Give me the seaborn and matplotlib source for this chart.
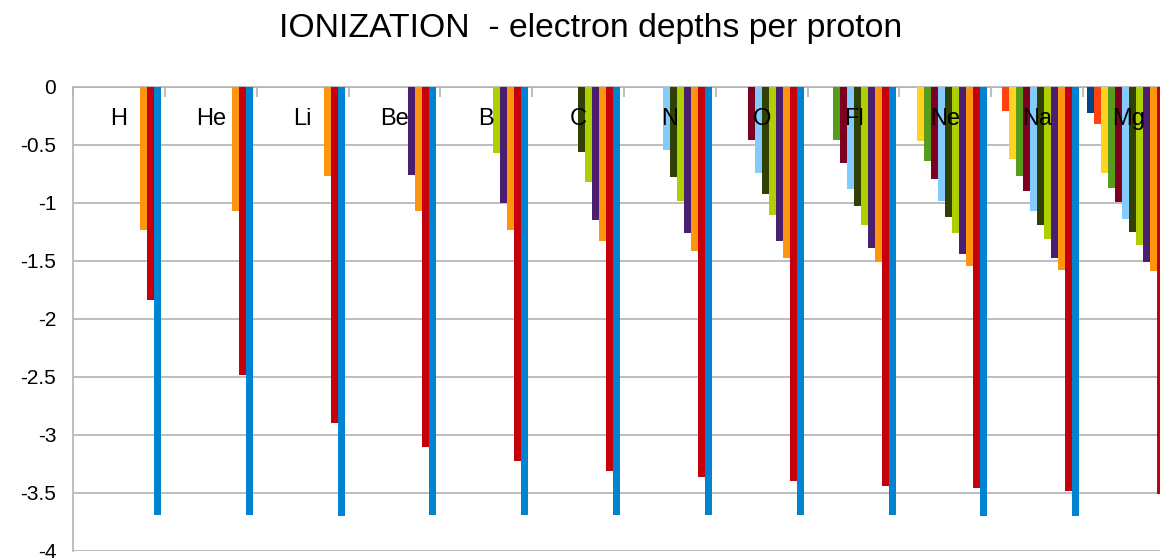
import numpy as np
import pandas as pd
import seaborn as sns
from matplotlib import pyplot as plt
from matplotlib.ticker import FuncFormatter

# elements (groups) and electron series
elements = ["H", "He", "Li", "Be", "B", "C", "N", "O", "Fl", "Ne", "Na", "Mg"]
series = ["e%d" % i for i in range(1, 13)]
colors = ["#004586", "#ff420e", "#ffd320", "#579d1c", "#7e0021", "#83caff",
          "#314004", "#aecf00", "#4b1f6f", "#ff950e", "#c5000b", "#0084d1"]

N = None
h_vals  = [N, N, N, N, N, N, N, N, N, -1.23, -1.84, -3.69]
he_vals = [N, N, N, N, N, N, N, N, N, -1.066, -2.48, -3.69]
li_vals = [N, N, N, N, N, N, N, N, N, -0.77, -2.90, -3.70]
be_vals = [N, N, N, N, N, N, N, N, -0.756, -1.066, -3.10, -3.69]
b_vals  = [N, N, N, N, N, N, N, -0.566, -0.997, -1.23, -3.22, -3.69]
c_vals  = [N, N, N, N, N, N, -0.558, -0.816, -1.15, -1.33, -3.31, -3.69]
n_vals  = [N, N, N, N, N, -0.543, -0.773, -0.98, -1.256, -1.41, -3.36, -3.69]
o_vals  = [N, N, N, N, -0.457, -0.739, -0.92, -1.10, -1.33, -1.47, -3.40, -3.69]
fl_vals = [N, N, N, -0.457, -0.652, -0.877, -1.03, -1.19, -1.39, -1.51, -3.44, -3.69]
ne_vals = [N, N, -0.463, -0.635, -0.79, -0.98, -1.12, -1.256, -1.437, -1.54, -3.46, -3.70]
na_vals = [N, -0.204, -0.618, -0.765, -0.90, -1.066, -1.187, -1.31, -1.47, -1.575, -3.48, -3.70]
mg_vals = [-0.221, -0.316, -0.739, -0.868, -0.989, -1.135, -1.247, -1.36, -1.506, -1.59, -3.506, -3.70]

all_vals = [h_vals, he_vals, li_vals, be_vals, b_vals, c_vals,
            n_vals, o_vals, fl_vals, ne_vals, na_vals, mg_vals]

rows = []
for el, vals in zip(elements, all_vals):
    for s, v in zip(series, vals):
        if v is not None:
            rows.append({"element": el, "series": s, "depth": v})
df = pd.DataFrame(rows)

sns.set_style("white")
plt.rcParams['font.family'] = ['Liberation Sans', 'DejaVu Sans']
plt.rcParams['axes.unicode_minus'] = False
plt.rcParams['text.color'] = 'black'
plt.rcParams['ytick.labelcolor'] = 'black'

fig = plt.figure(figsize=(11.6, 5.6), dpi=100)
ax = fig.add_axes([73/1160, 9/560, 1102/1160, 464/560])

sns.barplot(data=df, x="element", y="depth", hue="series", order=elements,
            hue_order=series, palette=colors, saturation=1, width=0.915,
            errorbar=None, linewidth=0, ax=ax, legend=False, zorder=3)

ax.set_ylim(-4, 0)
ax.set_xlim(-0.5, len(elements) - 0.5)
ax.set_yticks(np.arange(-4, 0.01, 0.5))
ax.yaxis.set_major_formatter(FuncFormatter(lambda v, p: "%g" % v))
ax.yaxis.grid(True, color="#b3b3b3", linewidth=1.2, zorder=0)
ax.set_axisbelow(True)
ax.tick_params(axis="y", labelsize=15, length=8, width=1.2, color="#b3b3b3",
               labelcolor="black", pad=4)

# category boundary ticks along the zero line
ax.xaxis.tick_top()
ax.set_xticks(np.arange(-0.5, len(elements), 1.0))
ax.set_xticklabels([])
ax.tick_params(axis="x", direction="in", length=7, width=1.2, color="#b3b3b3")
ax.set_xlabel("")
ax.set_ylabel("")

for sp in ["right", "bottom"]:
    ax.spines[sp].set_visible(False)
for sp in ["left", "top"]:
    ax.spines[sp].set_color("#b3b3b3")
    ax.spines[sp].set_linewidth(1.2)

for i, el in enumerate(elements):
    ax.text(i, -0.28, el, ha="center", va="center", fontsize=17,
            color="black", zorder=5)

fig.text(591/1160, 1 - 29/560, "IONIZATION  - electron depths per proton",
         ha="center", va="center", fontsize=24.3, color="black")

fig.savefig("out.png", dpi=100, facecolor="white")
